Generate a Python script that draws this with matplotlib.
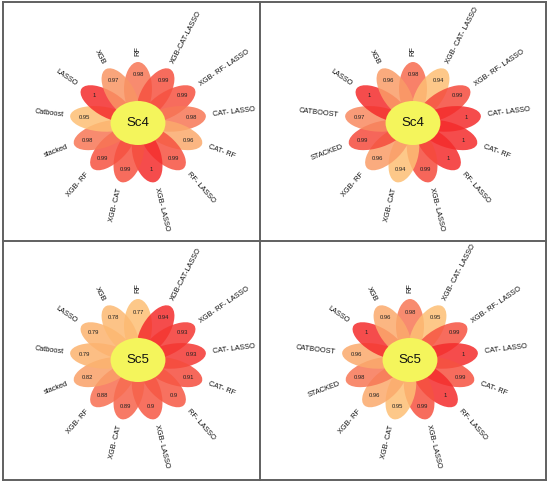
import numpy as np
import matplotlib
matplotlib.use("Agg")
import matplotlib.pyplot as plt
from matplotlib.patches import Ellipse
from matplotlib.colors import LinearSegmentedColormap, Normalize
from matplotlib.lines import Line2D

plt.rcParams['font.family'] = ['Liberation Sans', 'DejaVu Sans']

# petal order: starting at the top, going clockwise
labels_a = ["RF", "XGB-CAT-LASSO", "XGB- RF- LASSO", "CAT- LASSO", "CAT- RF", "RF- LASSO",
            "XGB- LASSO", "XGB- CAT", "XGB- RF", "stacked", "Catboost", "LASSO", "XGB"]
labels_b = ["RF", "XGB- CAT- LASSO", "XGB- RF- LASSO", "CAT- LASSO", "CAT- RF", "RF- LASSO",
            "XGB- LASSO", "XGB- CAT", "XGB- RF", "STACKED", "CATBOOST", "LASSO", "XGB"]

sc4_left = [0.98, 0.99, 0.99, 0.98, 0.96, 0.99, 1, 0.99, 0.99, 0.98, 0.95, 1, 0.97]
sc4_right = [0.98, 0.94, 0.99, 1, 1, 1, 0.99, 0.94, 0.96, 0.99, 0.97, 1, 0.96]
sc5_left = [0.77, 0.94, 0.93, 0.93, 0.91, 0.9, 0.9, 0.89, 0.88, 0.82, 0.79, 0.79, 0.78]
sc5_right = [0.98, 0.95, 0.99, 1, 0.99, 1, 0.99, 0.95, 0.96, 0.98, 0.96, 1, 0.96]

panels = [
    ("Sc4", labels_a, sc4_left, (138, 123)),
    ("Sc4", labels_b, sc4_right, (413, 123)),
    ("Sc5", labels_a, sc5_left, (138, 360)),
    ("Sc5", labels_b, sc5_right, (410, 360)),
]

cmap = LinearSegmentedColormap.from_list("petal", ["#fdbf74", "#f88a60", "#f42c2c"])

W, H = 550, 484
fig = plt.figure(figsize=(W / 100, H / 100), dpi=100)

SX = 1.12  # horizontal stretch of the flowers
AW, AH = 250, 230


def fmt(v):
    return "1" if v == 1 else f"{v:g}"


for name, labels, vals, (cx, cy) in panels:
    ax = fig.add_axes([(cx - AW / 2) / W, 1 - (cy + AH / 2) / H, AW / W, AH / H])
    ax.set_xlim(-AW / 2 / SX, AW / 2 / SX)
    ax.set_ylim(-AH / 2, AH / 2)
    ax.axis("off")
    n = len(vals)
    angles = 90 - np.arange(n) * 360 / n
    norm = Normalize(min(vals), max(vals))
    for ang, v, lab in zip(angles, vals, labels):
        t = np.deg2rad(ang)
        rc = 34
        ax.add_patch(Ellipse((rc * np.cos(t), rc * np.sin(t)), 54, 25, angle=ang,
                             facecolor=cmap(norm(v)), edgecolor="none", alpha=0.85))
        ax.text(48 * np.cos(t), 48 * np.sin(t), fmt(v), fontsize=4.2,
                ha="center", va="center", color="#222222")
        rl = 67
        c = np.cos(t)
        if c >= -1e-6:
            rot, ha = ang, "left"
        else:
            rot, ha = ang - 180, "right"
        ax.text(rl * np.cos(t), rl * np.sin(t), lab, fontsize=5.3, rotation=rot,
                rotation_mode="anchor", ha=ha, va="center", color="#111111")
    ax.add_patch(Ellipse((0, 0), 49, 44, facecolor="#f4f55c", edgecolor="none"))
    ax.text(0, 0, name, fontsize=9.5, ha="center", va="center", color="#111111")

# panel frames
def px(x, y):
    return x / W, 1 - y / H

frame = dict(color="#606060", lw=1.4)
for (x0, y0), (x1, y1) in [((3, 2), (546, 2)), ((3, 480), (546, 480)), ((3, 2), (3, 480)),
                           ((546, 2), (546, 480)), ((260, 2), (260, 480)), ((3, 241), (546, 241))]:
    a, b = px(x0, y0)
    c, d = px(x1, y1)
    fig.add_artist(Line2D([a, c], [b, d], transform=fig.transFigure, **frame))

fig.savefig("out.png", dpi=100)
